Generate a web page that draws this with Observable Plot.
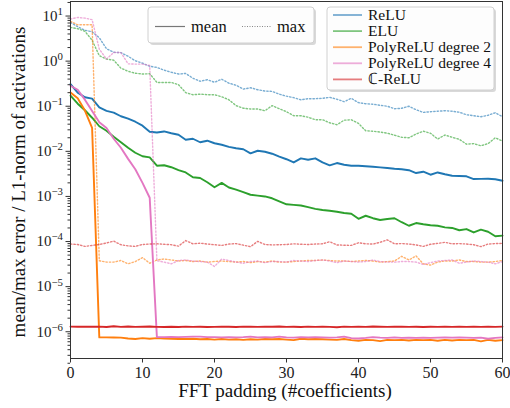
<!DOCTYPE html>
<html><head><meta charset="utf-8">
<script src="https://cdn.jsdelivr.net/npm/d3@7"></script>
<script src="https://cdn.jsdelivr.net/npm/@observablehq/plot@0.6"></script>
<style>
html,body{margin:0;padding:0;background:#fff;}
#wrap{width:510px;height:408px;}
</style></head><body><div id="wrap"></div>
<script>
// ---- data ----
const padding = d3.range(0, 61);
const seriesNames = ["ReLU", "ELU", "PolyReLU degree 2", "PolyReLU degree 4", "\u2102-ReLU"];
const seriesColors = ["#1f77b4", "#2ca02c", "#ff7f0e", "#e377c2", "#d62728"];
const xTicks = [0, 10, 20, 30, 40, 50, 60];
const yMajorTicks = [1e-6, 1e-5, 1e-4, 1e-3, 1e-2, 1e-1, 1, 10];

const reluMean = [0.31,0.20,0.158,0.147,0.094,0.079,0.072,0.060,0.053,0.0453,
 0.037,0.0272,0.0262,0.0276,0.0252,0.0233,0.0181,0.019,0.0159,0.0172,
 0.0151,0.014,0.0126,0.0117,0.0111,0.0090,0.0103,0.0098,0.00885,0.0076,
 0.00668,0.00567,0.00696,0.0065,0.0070,0.00567,0.0049,0.0055,0.00505,0.0048,
 0.0048,0.00467,0.00456,0.0044,0.00427,0.0041,0.0040,0.00381,0.0033,0.00353,
 0.00303,0.0034,0.0031,0.00288,0.00284,0.0028,0.00243,0.00245,0.00247,0.0024,0.00223];
const reluMax = [7.2,5.8,4.84,4.48,3.3,1.88,1.57,1.54,1.28,1.02,
 0.90,0.77,0.725,0.63,0.567,0.518,0.533,0.418,0.358,0.387,
 0.34,0.397,0.324,0.292,0.24,0.257,0.232,0.217,0.213,0.185,
 0.167,0.155,0.139,0.147,0.147,0.150,0.157,0.143,0.126,0.150,
 0.12,0.1136,0.111,0.105,0.1,0.088,0.09,0.1,0.0836,0.073,
 0.0755,0.0775,0.0795,0.0775,0.0736,0.0648,0.0616,0.0585,0.063,0.0718,0.0585];
const eluMean = [0.171,0.1136,0.0815,0.0556,0.036,0.0286,0.0211,0.0159,0.012,0.0093,
 0.00778,0.00733,0.0048,0.00492,0.00444,0.00385,0.0034,0.00267,0.00256,0.00206,
 0.0016,0.0020,0.00158,0.00141,0.00124,0.00109,0.00104,0.001,0.00091,0.00078,
 0.00067,0.00065,0.00063,0.00058,0.00053,0.0005,0.00048,0.000458,0.000428,0.000413,
 0.00032,0.000373,0.000329,0.0003,0.000317,0.000329,0.000268,0.000224,0.000257,0.000242,
 0.00023,0.000224,0.000206,0.0002,0.000178,0.000189,0.000159,0.000183,0.000165,0.000131,0.000135];
const eluMax = [5.59,5.23,4.6,2.91,1.32,1.11,1.05,0.696,0.597,0.539,
 0.518,0.526,0.337,0.337,0.337,0.3,0.2,0.18,0.185,0.18,
 0.18,0.162,0.139,0.103,0.0903,0.0867,0.0867,0.0795,0.103,0.088,
 0.0755,0.0616,0.0616,0.057,0.0502,0.0502,0.043,0.0389,0.049,0.0502,
 0.0416,0.0286,0.0279,0.0268,0.0252,0.0228,0.0205,0.020,0.0242,0.0279,
 0.0252,0.0187,0.023,0.0205,0.0185,0.0144,0.0148,0.0133,0.0148,0.020,0.0168];
const poly2Mean = [0.202,0.15,0.08,0.033,
 7.5e-7,7.5e-7,7.45e-7,7.4e-7,7.1e-7,6.9e-7,7.2e-7,7.0e-7,7.2e-7,7.1e-7,
 7.0e-7,6.9e-7,6.9e-7,7.0e-7,6.8e-7,6.9e-7,6.7e-7,6.9e-7,6.7e-7,6.8e-7,
 6.6e-7,6.8e-7,6.7e-7,6.9e-7,6.8e-7,6.9e-7,6.7e-7,6.5e-7,7.0e-7,6.8e-7,
 6.9e-7,6.8e-7,6.7e-7,6.6e-7,6.9e-7,6.5e-7,6.3e-7,6.6e-7,6.5e-7,6.2e-7,
 6.6e-7,6.5e-7,6.6e-7,6.4e-7,6.6e-7,6.5e-7,6.6e-7,6.3e-7,6.6e-7,6.4e-7,
 6.6e-7,6.5e-7,6.6e-7,6.1e-7,6.6e-7,6.3e-7,6.5e-7];
const poly2Max = [7.6,6.4,6.4,6.4,
 3.75e-5,3.5e-5,3.5e-5,3.8e-5,3.2e-5,3.6e-5,4.4e-5,3.3e-5,3.9e-5,4.1e-5,
 3.9e-5,3.7e-5,3.8e-5,3.6e-5,3.7e-5,3.5e-5,3.6e-5,3.7e-5,3.6e-5,3.5e-5,
 3.6e-5,3.4e-5,3.6e-5,3.5e-5,3.7e-5,3.5e-5,3.5e-5,3.6e-5,3.7e-5,3.8e-5,
 3.8e-5,3.9e-5,3.8e-5,3.7e-5,3.7e-5,3.6e-5,3.7e-5,3.8e-5,3.7e-5,3.5e-5,
 3.6e-5,3.7e-5,4.7e-5,3.9e-5,4.8e-5,3.2e-5,3.0e-5,3.5e-5,3.7e-5,3.7e-5,
 3.9e-5,3.6e-5,3.6e-5,3.5e-5,3.5e-5,3.6e-5,3.8e-5];
const poly4Mean = [0.285,0.232,0.14,0.078,0.044,0.033,0.019,0.012,0.0068,0.004,0.002,0.000935,
 7.6e-7,7.6e-7,7.7e-7,7.6e-7,7.7e-7,7.8e-7,7.8e-7,7.6e-7,7.6e-7,7.5e-7,
 7.6e-7,7.5e-7,7.6e-7,7.8e-7,7.5e-7,7.6e-7,7.5e-7,7.8e-7,7.5e-7,7.4e-7,
 7.6e-7,7.5e-7,7.6e-7,7.5e-7,7.4e-7,7.5e-7,7.8e-7,7.2e-7,7.1e-7,7.3e-7,
 7.6e-7,7.4e-7,7.3e-7,7.5e-7,7.3e-7,7.4e-7,7.3e-7,7.4e-7,7.3e-7,7.4e-7,
 7.5e-7,7.4e-7,7.5e-7,7.4e-7,7.3e-7,7.4e-7,7.0e-7,7.3e-7,7.5e-7];
const poly4Max = [8.6,9.3,9.0,8.3,1.85,1.11,1.56,1.55,0.87,0.86,0.86,0.80,
 3.75e-5,3.5e-5,3.2e-5,3.8e-5,3.9e-5,3.7e-5,3.6e-5,3.5e-5,2.8e-5,4.1e-5,
 3.8e-5,3.5e-5,3.3e-5,3.6e-5,3.7e-5,3.4e-5,3.6e-5,3.6e-5,3.5e-5,3.8e-5,
 3.7e-5,3.6e-5,3.8e-5,3.9e-5,3.7e-5,3.4e-5,3.7e-5,3.6e-5,3.5e-5,3.6e-5,
 3.9e-5,3.6e-5,3.5e-5,3.5e-5,3.6e-5,3.6e-5,3.5e-5,3.1e-5,3.4e-5,3.7e-5,
 3.8e-5,3.9e-5,3.3e-5,3.5e-5,3.7e-5,3.6e-5,3.5e-5,3.2e-5,3.6e-5];
const creluMean = [1.30e-6,1.29e-6,1.30e-6,1.29e-6,1.30e-6,1.27e-6,1.32e-6,1.28e-6,1.31e-6,1.28e-6,
 1.29e-6,1.31e-6,1.28e-6,1.27e-6,1.29e-6,1.27e-6,1.30e-6,1.28e-6,1.29e-6,1.27e-6,
 1.28e-6,1.30e-6,1.29e-6,1.27e-6,1.30e-6,1.29e-6,1.28e-6,1.30e-6,1.29e-6,1.31e-6,
 1.28e-6,1.29e-6,1.27e-6,1.30e-6,1.28e-6,1.29e-6,1.28e-6,1.26e-6,1.30e-6,1.28e-6,
 1.29e-6,1.28e-6,1.31e-6,1.29e-6,1.28e-6,1.30e-6,1.29e-6,1.28e-6,1.29e-6,1.27e-6,
 1.29e-6,1.28e-6,1.29e-6,1.28e-6,1.30e-6,1.28e-6,1.29e-6,1.28e-6,1.29e-6,1.28e-6,1.30e-6];
const creluMax = [8.8e-5,8.6e-5,7.8e-5,8.2e-5,8.6e-5,9.3e-5,10.2e-5,8.5e-5,8.0e-5,7.8e-5,
 8.6e-5,8.8e-5,8.9e-5,8.7e-5,8.5e-5,7.9e-5,10.5e-5,8.9e-5,9.2e-5,8.8e-5,
 8.5e-5,8.2e-5,8.8e-5,9.0e-5,8.3e-5,7.7e-5,10.1e-5,8.6e-5,8.4e-5,8.5e-5,
 8.6e-5,8.9e-5,8.7e-5,8.6e-5,8.8e-5,8.9e-5,9.9e-5,8.4e-5,8.3e-5,8.2e-5,
 9.4e-5,8.9e-5,8.8e-5,9.6e-5,10.9e-5,8.9e-5,9.0e-5,8.8e-5,8.4e-5,7.8e-5,
 8.7e-5,9.1e-5,9.6e-5,8.9e-5,9.0e-5,8.8e-5,8.5e-5,7.7e-5,8.8e-5,9.0e-5,9.1e-5];

const meanSeries = [reluMean, eluMean, poly2Mean, poly4Mean, creluMean];
const maxSeries = [reluMax, eluMax, poly2Max, poly4Max, creluMax];

// ---- build marks ----
const toRows = arr => arr.map((v, i) => ({x: padding[i], y: v}));
const lineMarks = [];
seriesNames.forEach((name, i) => {
  lineMarks.push(Plot.line(toRows(meanSeries[i]), {x: "x", y: "y", stroke: seriesColors[i], strokeWidth: 1.9}));
  lineMarks.push(Plot.line(toRows(maxSeries[i]), {x: "x", y: "y", stroke: seriesColors[i], strokeWidth: 1.4, strokeOpacity: 0.6, strokeDasharray: "1.4,2"}));
});

const minorTicks = [];
for (let e = -7; e <= 1; e++) for (let m = 2; m <= 9; m++) minorTicks.push(m * Math.pow(10, e));

const chart = Plot.plot({
  width: 510, height: 408,
  marginLeft: 70, marginRight: 8, marginTop: 1, marginBottom: 50,
  style: {fontFamily: "'Liberation Serif', serif", fontSize: "15px", color: "#222", background: "#fff", overflow: "visible"},
  x: {domain: [0, 60], label: null},
  y: {type: "log", domain: [2.55e-7, 21], label: null},
  marks: [
    ...lineMarks,
    Plot.axisX({ticks: xTicks, tickSize: 4.5, tickPadding: 4, label: null, stroke: "#333", fill: "#222"}),
    Plot.axisY({ticks: minorTicks, tickSize: 2.5, tickFormat: () => "", label: null, stroke: "#333"}),
    Plot.axisY({ticks: yMajorTicks, tickSize: 4.5, tickPadding: 3, label: null, stroke: "#333", fill: "#222",
      tickFormat: d => String(Math.round(Math.log10(d)))}),
    Plot.frame({stroke: "#333", strokeWidth: 1})
  ]
});
document.getElementById("wrap").appendChild(chart);

const svg = d3.select(chart);
svg.selectAll('g[aria-label="x-axis tick label"]').attr("font-size", "16px");
svg.selectAll('g[aria-label="y-axis tick label"]').attr("font-size", "15px");
svg.selectAll('g[aria-label="y-axis tick label"] text').each(function () {
  const t = this.textContent;
  if (!t) return;
  const sel = d3.select(this);
  sel.text(null);
  sel.append("tspan").text("10");
  sel.append("tspan").attr("dy", "-0.55em").attr("font-size", "0.72em").text(t.replace("-", "\u2212"));
});

// axis titles
svg.append("text").attr("transform", "translate(25,182) rotate(-90)").attr("text-anchor", "middle")
  .attr("font-size", 19).attr("fill", "#111").text("mean/max error / L1-norm of activations");
svg.append("text").attr("x", 285).attr("y", 397).attr("text-anchor", "middle")
  .attr("font-size", 19).attr("fill", "#111").text("FFT padding (#coefficients)");

// legend: line styles
const lg1 = svg.append("g").attr("text-anchor", "start");
lg1.append("rect").attr("x", 150).attr("y", 9).attr("width", 166).attr("height", 36).attr("rx", 3).attr("fill", "#000").attr("opacity", 0.15);
lg1.append("rect").attr("x", 148).attr("y", 7).attr("width", 166).attr("height", 36).attr("rx", 3).attr("fill", "#fff").attr("fill-opacity", 0.95).attr("stroke", "#d0d0d0");
lg1.append("line").attr("x1", 155).attr("x2", 185).attr("y1", 26.5).attr("y2", 26.5).attr("stroke", "#777").attr("stroke-width", 1.2);
lg1.append("text").attr("x", 191).attr("y", 32).attr("font-size", 16.5).attr("fill", "#111").text("mean");
lg1.append("line").attr("x1", 242).attr("x2", 272).attr("y1", 26.5).attr("y2", 26.5).attr("stroke", "#888").attr("stroke-width", 1).attr("stroke-dasharray", "1,1.5");
lg1.append("text").attr("x", 277).attr("y", 32).attr("font-size", 16.5).attr("fill", "#111").text("max");

// legend: series
const lg2 = svg.append("g").attr("text-anchor", "start");
lg2.append("rect").attr("x", 329).attr("y", 9).attr("width", 167).attr("height", 83).attr("rx", 3).attr("fill", "#000").attr("opacity", 0.15);
lg2.append("rect").attr("x", 327).attr("y", 7).attr("width", 167).attr("height", 83).attr("rx", 3).attr("fill", "#fff").attr("fill-opacity", 0.95).attr("stroke", "#d0d0d0");
seriesNames.forEach((name, i) => {
  const yy = 15 + i * 16.1;
  lg2.append("line").attr("x1", 333).attr("x2", 362).attr("y1", yy).attr("y2", yy).attr("stroke", seriesColors[i]).attr("stroke-opacity", 0.6).attr("stroke-width", 1.8);
  lg2.append("text").attr("x", 368).attr("y", yy + 5).attr("font-size", 15.5).attr("fill", "#111").text(name);
});
</script>
</body></html>
